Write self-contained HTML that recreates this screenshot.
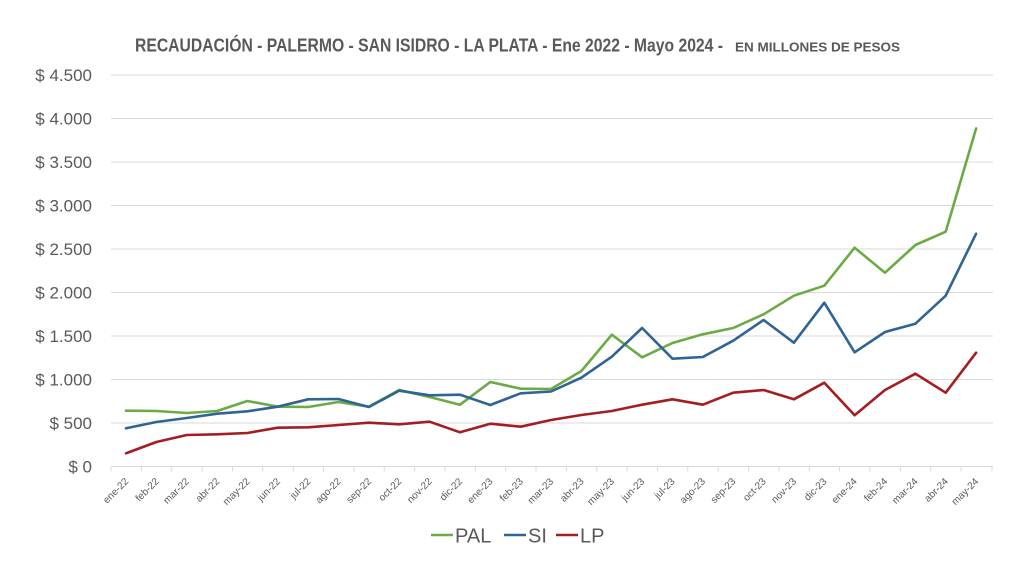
<!DOCTYPE html>
<html>
<head>
<meta charset="utf-8">
<style>
  html, body { margin: 0; padding: 0; background: #ffffff; }
  body { width: 1024px; height: 576px; overflow: hidden; }
  svg { display: block; }
  text { font-family: "Liberation Sans", sans-serif; }
</style>
</head>
<body>
<svg width="1024" height="576" viewBox="0 0 1024 576" xmlns="http://www.w3.org/2000/svg">
  <rect x="0" y="0" width="1024" height="576" fill="#ffffff"/>

  <!-- Title -->
  <text x="135" y="51.5" font-size="18" font-weight="bold" fill="#595959" textLength="588" lengthAdjust="spacingAndGlyphs">RECAUDACIÓN - PALERMO - SAN ISIDRO - LA PLATA  - Ene 2022 - Mayo 2024 -</text>
  <text x="735" y="51.5" font-size="12.5" font-weight="bold" fill="#595959" textLength="165" lengthAdjust="spacingAndGlyphs">EN MILLONES DE PESOS</text>

  <!-- Gridlines -->
  <g stroke="#D9D9D9" stroke-width="1">
    <line x1="111" y1="423" x2="993" y2="423"/>
    <line x1="111" y1="379.5" x2="993" y2="379.5"/>
    <line x1="111" y1="336" x2="993" y2="336"/>
    <line x1="111" y1="292.5" x2="993" y2="292.5"/>
    <line x1="111" y1="249" x2="993" y2="249"/>
    <line x1="111" y1="205.5" x2="993" y2="205.5"/>
    <line x1="111" y1="162" x2="993" y2="162"/>
    <line x1="111" y1="118.5" x2="993" y2="118.5"/>
    <line x1="111" y1="75" x2="993" y2="75"/>
  </g>

  <!-- X axis and ticks -->
  <g stroke="#D9D9D9" stroke-width="1">
    <line x1="111" y1="466.5" x2="993" y2="466.5"/>
    <path d="M111,466.5v5 M141.4,466.5v5 M171.7,466.5v5 M202.1,466.5v5 M232.4,466.5v5 M262.8,466.5v5 M293.2,466.5v5 M323.5,466.5v5 M353.9,466.5v5 M384.2,466.5v5 M414.6,466.5v5 M445,466.5v5 M475.3,466.5v5 M505.7,466.5v5 M536,466.5v5 M566.4,466.5v5 M596.8,466.5v5 M627.1,466.5v5 M657.5,466.5v5 M687.8,466.5v5 M718.2,466.5v5 M748.6,466.5v5 M778.9,466.5v5 M809.3,466.5v5 M839.6,466.5v5 M870,466.5v5 M900.4,466.5v5 M930.7,466.5v5 M961.1,466.5v5 M992,466.5v5"/>
  </g>

  <!-- Y labels -->
  <g font-size="17" fill="#595959" text-anchor="end">
    <text x="92" y="472.5">$ 0</text>
    <text x="92" y="429">$ 500</text>
    <text x="92" y="385.5">$ 1.000</text>
    <text x="92" y="342">$ 1.500</text>
    <text x="92" y="298.5">$ 2.000</text>
    <text x="92" y="255">$ 2.500</text>
    <text x="92" y="211.5">$ 3.000</text>
    <text x="92" y="168">$ 3.500</text>
    <text x="92" y="124.5">$ 4.000</text>
    <text x="92" y="81">$ 4.500</text>
  </g>

  <!-- X labels -->
  <g font-size="10" fill="#595959" text-anchor="end">
    <text transform="translate(129,482) rotate(-45)">ene-22</text>
    <text transform="translate(159.4,482) rotate(-45)">feb-22</text>
    <text transform="translate(189.7,482) rotate(-45)">mar-22</text>
    <text transform="translate(220.1,482) rotate(-45)">abr-22</text>
    <text transform="translate(250.4,482) rotate(-45)">may-22</text>
    <text transform="translate(280.8,482) rotate(-45)">jun-22</text>
    <text transform="translate(311.2,482) rotate(-45)">jul-22</text>
    <text transform="translate(341.5,482) rotate(-45)">ago-22</text>
    <text transform="translate(371.9,482) rotate(-45)">sep-22</text>
    <text transform="translate(402.2,482) rotate(-45)">oct-22</text>
    <text transform="translate(432.6,482) rotate(-45)">nov-22</text>
    <text transform="translate(463,482) rotate(-45)">dic-22</text>
    <text transform="translate(493.3,482) rotate(-45)">ene-23</text>
    <text transform="translate(523.7,482) rotate(-45)">feb-23</text>
    <text transform="translate(554,482) rotate(-45)">mar-23</text>
    <text transform="translate(584.4,482) rotate(-45)">abr-23</text>
    <text transform="translate(614.8,482) rotate(-45)">may-23</text>
    <text transform="translate(645.1,482) rotate(-45)">jun-23</text>
    <text transform="translate(675.5,482) rotate(-45)">jul-23</text>
    <text transform="translate(705.8,482) rotate(-45)">ago-23</text>
    <text transform="translate(736.2,482) rotate(-45)">sep-23</text>
    <text transform="translate(766.6,482) rotate(-45)">oct-23</text>
    <text transform="translate(796.9,482) rotate(-45)">nov-23</text>
    <text transform="translate(827.3,482) rotate(-45)">dic-23</text>
    <text transform="translate(857.6,482) rotate(-45)">ene-24</text>
    <text transform="translate(888,482) rotate(-45)">feb-24</text>
    <text transform="translate(918.4,482) rotate(-45)">mar-24</text>
    <text transform="translate(948.7,482) rotate(-45)">abr-24</text>
    <text transform="translate(979.1,482) rotate(-45)">may-24</text>
  </g>

  <!-- Series -->
  <g fill="none" stroke-width="2.6" stroke-linejoin="round" stroke-linecap="round">
    <polyline stroke="#6AAB45" points="126,410.7 156.4,411 186.7,413 217.1,411 247.4,401 277.8,406.7 308.2,407 338.5,402 368.9,406.7 399.2,390 429.6,397 460,404.7 490.3,382 520.7,388.7 551,389 581.4,371 611.8,334.7 642.1,357.3 672.5,343 702.8,334.3 733.2,328 763.6,314.3 793.9,295.7 824.3,285.7 854.6,247.7 885,272.7 915.4,245 945.7,231.7 976.1,128.5"/>
    <polyline stroke="#2F6494" points="126,428.3 156.4,422 186.7,418 217.1,413.7 247.4,411.3 277.8,406.7 308.2,399.3 338.5,399 368.9,407 399.2,390.7 429.6,395.3 460,394.7 490.3,405 520.7,393.3 551,391.5 581.4,377.7 611.8,356.7 642.1,328 672.5,358.7 702.8,357 733.2,340.7 763.6,320 793.9,342.7 824.3,302.7 854.6,352.3 885,332 915.4,323.7 945.7,295.7 976.1,233.7"/>
    <polyline stroke="#A51D22" points="126,453.3 156.4,442 186.7,435 217.1,434.3 247.4,433 277.8,427.7 308.2,427.3 338.5,425 368.9,422.7 399.2,424.3 429.6,421.7 460,432.3 490.3,423.7 520.7,426.7 551,420 581.4,415 611.8,411 642.1,404.7 672.5,399.3 702.8,404.7 733.2,392.7 763.6,390 793.9,399.3 824.3,382.7 854.6,415.3 885,390 915.4,373.7 945.7,392.7 976.1,352.7"/>
  </g>

  <!-- Legend -->
  <g stroke-width="2.4">
    <line x1="431" y1="535" x2="453" y2="535" stroke="#6AAB45"/>
    <line x1="504" y1="535" x2="526" y2="535" stroke="#2F6494"/>
    <line x1="556" y1="535" x2="578" y2="535" stroke="#A51D22"/>
  </g>
  <g font-size="20" fill="#595959">
    <text x="455" y="542.3">PAL</text>
    <text x="528" y="542.3">SI</text>
    <text x="580" y="542.3">LP</text>
  </g>
</svg>
</body>
</html>
